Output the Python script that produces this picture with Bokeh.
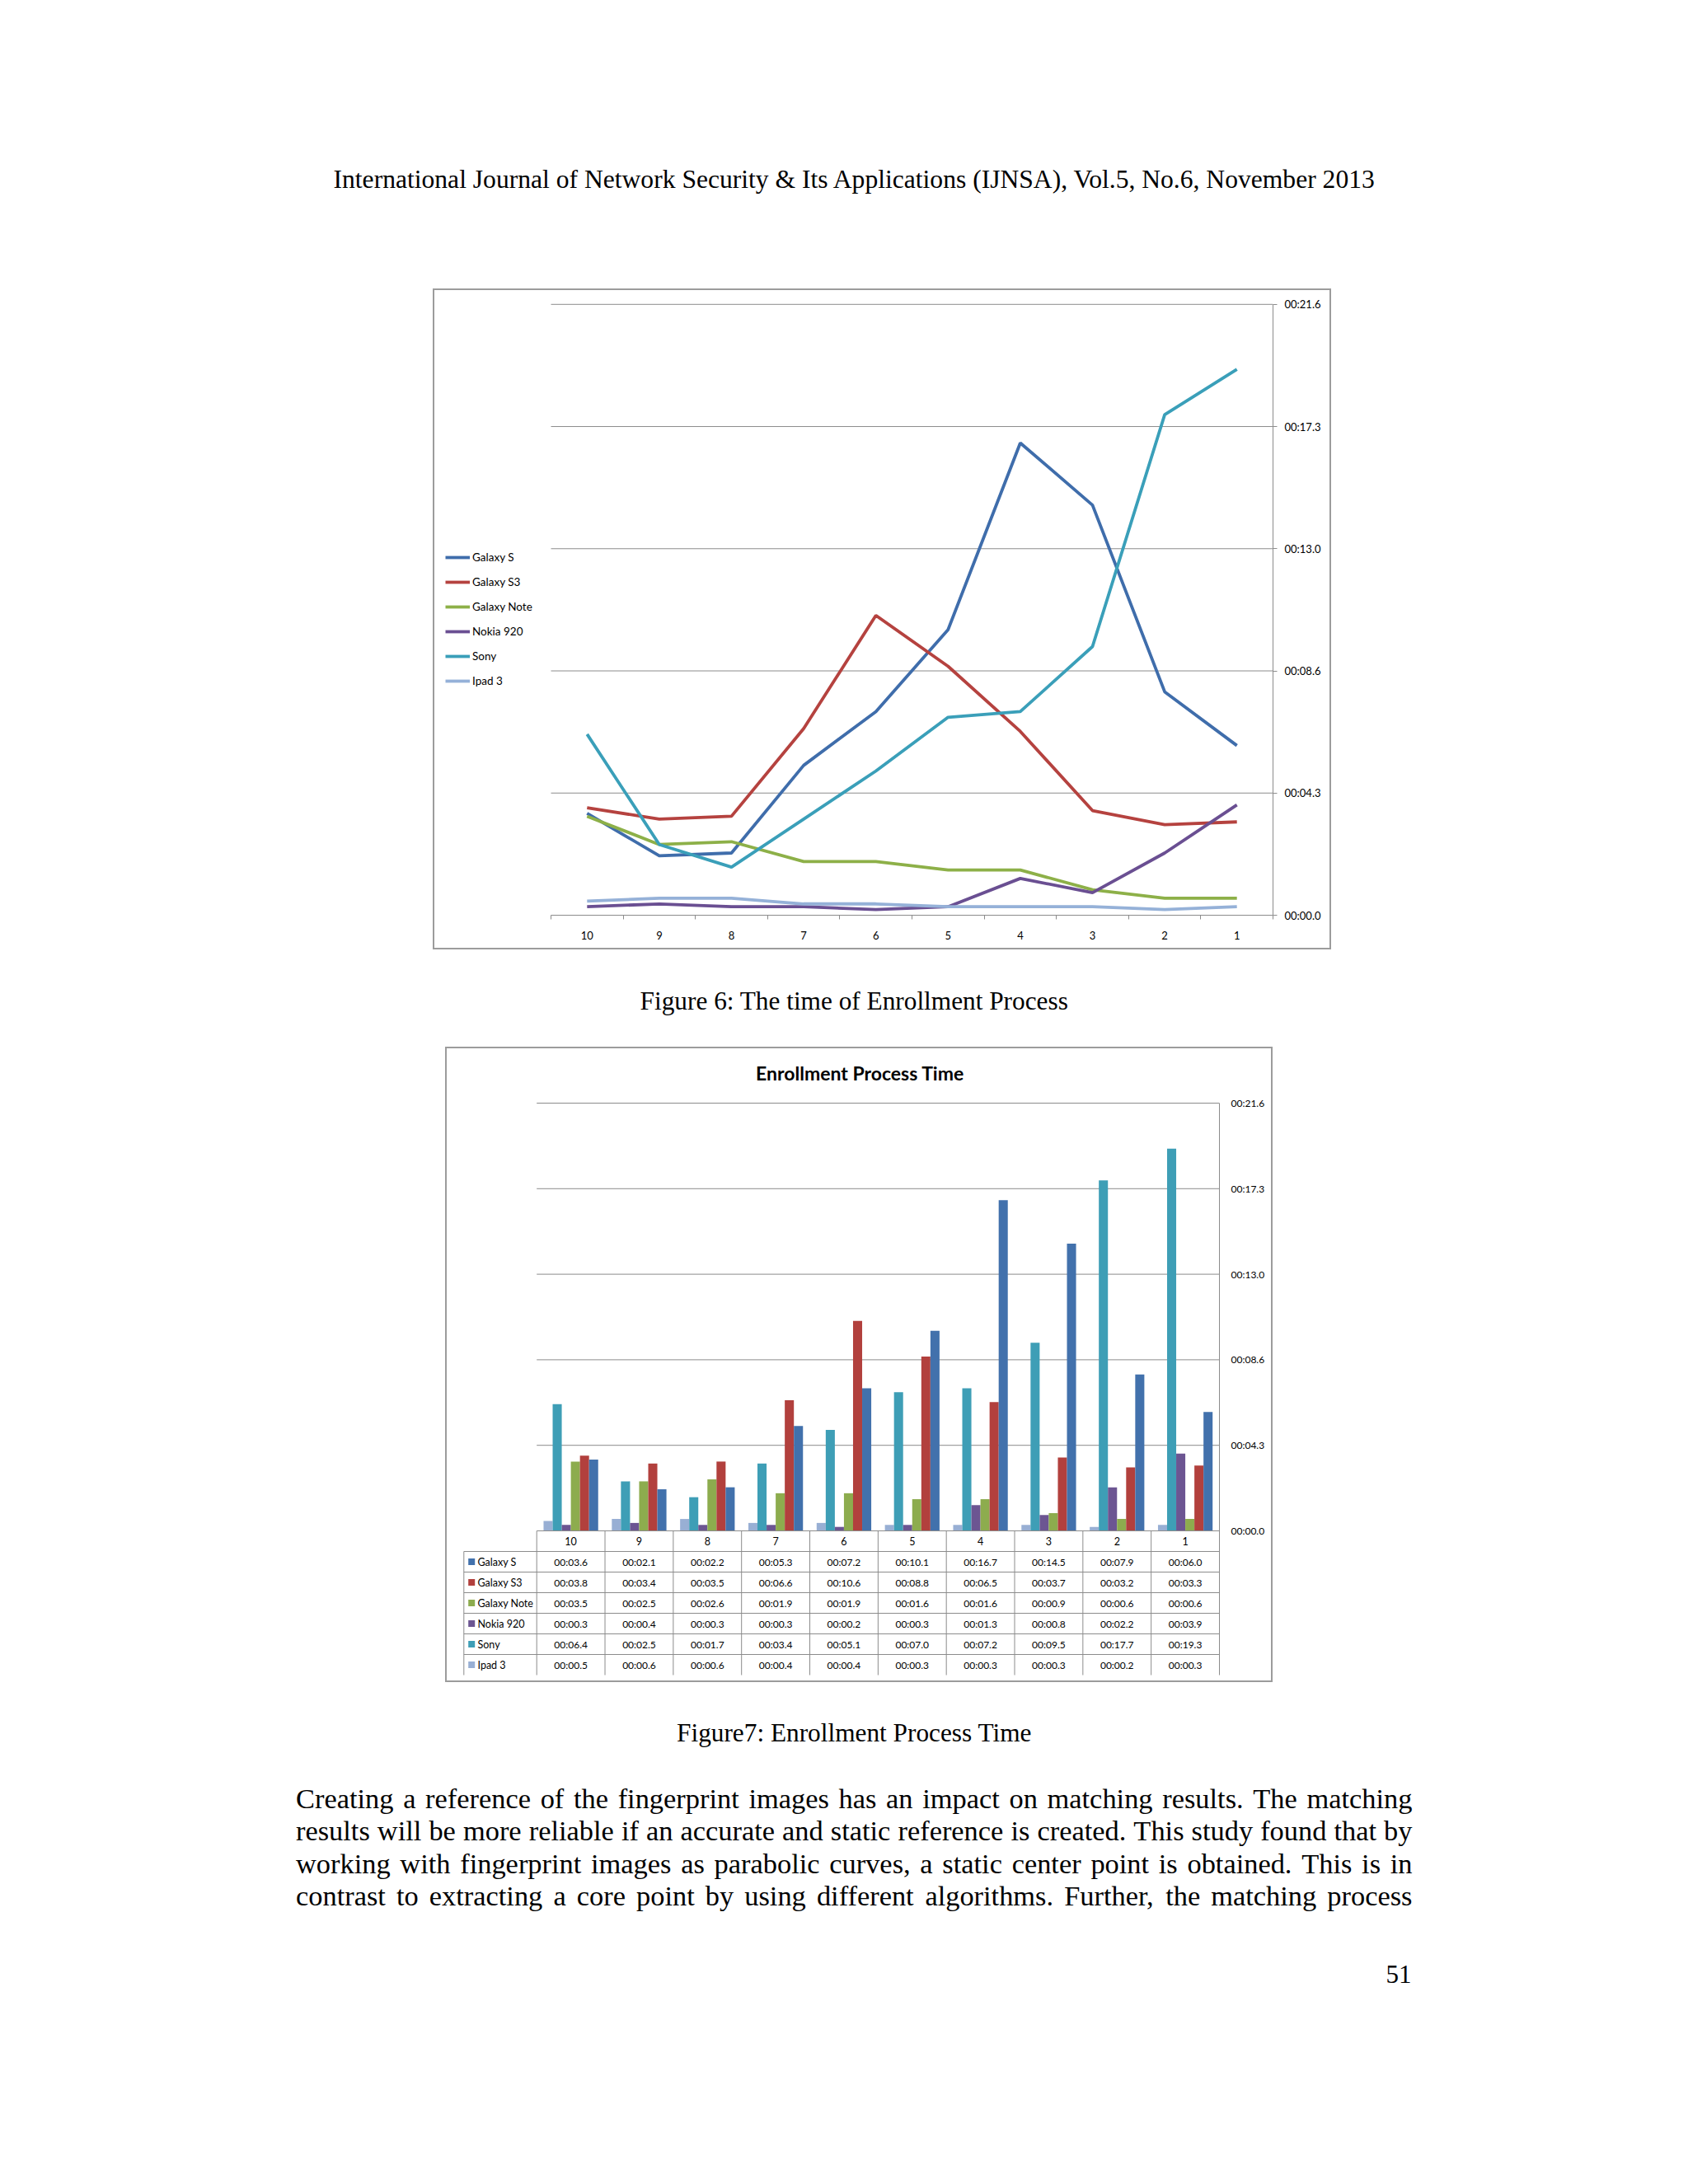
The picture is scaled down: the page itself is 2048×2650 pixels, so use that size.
from bokeh.plotting import figure
from bokeh.models import Range1d, LinearAxis, FixedTicker, Legend, LegendItem, Spacer
from bokeh.layouts import column, row
from bokeh.embed import file_html
from bokeh.resources import INLINE
from bokeh.core.properties import value

# ------------------------------------------------------------------ data
categories = ["10", "9", "8", "7", "6", "5", "4", "3", "2", "1"]
series_names = ["Galaxy S", "Galaxy S3", "Galaxy Note", "Nokia 920", "Sony", "Ipad 3"]
galaxy_s = [3.6, 2.1, 2.2, 5.3, 7.2, 10.1, 16.7, 14.5, 7.9, 6.0]
galaxy_s3 = [3.8, 3.4, 3.5, 6.6, 10.6, 8.8, 6.5, 3.7, 3.2, 3.3]
galaxy_note = [3.5, 2.5, 2.6, 1.9, 1.9, 1.6, 1.6, 0.9, 0.6, 0.6]
nokia_920 = [0.3, 0.4, 0.3, 0.3, 0.2, 0.3, 1.3, 0.8, 2.2, 3.9]
sony = [6.4, 2.5, 1.7, 3.4, 5.1, 7.0, 7.2, 9.5, 17.7, 19.3]
ipad_3 = [0.5, 0.6, 0.6, 0.4, 0.4, 0.3, 0.3, 0.3, 0.2, 0.3]
y_ticks = [0.0, 4.32, 8.64, 12.96, 17.28, 21.6]
y_tick_labels = ["00:00.0", "00:04.3", "00:08.6", "00:13.0", "00:17.3", "00:21.6"]

header_text = "International Journal of Network Security & Its Applications (IJNSA), Vol.5, No.6, November 2013"
caption6 = "Figure 6: The time of Enrollment Process"
caption7 = "Figure7: Enrollment Process Time"
chart7_title = "Enrollment Process Time"
body_lines = [
    "Creating a reference of the fingerprint images has an impact on matching results. The matching",
    "results will be more reliable if an accurate and static reference is created. This study found that by",
    "working with fingerprint images as parabolic curves, a static center point is obtained. This is in",
    "contrast to extracting a core point by using different algorithms. Further, the matching process",
]
page_number = "51"

series_values = [galaxy_s, galaxy_s3, galaxy_note, nokia_920, sony, ipad_3]
line_colors = ["#3F6DAB", "#B5423F", "#8DB048", "#6A4F92", "#3A9FB9", "#95B1D8"]
bar_colors = ["#4271AC", "#B2403D", "#8DAC4E", "#6C5592", "#3E9EB6", "#98AFD4"]

SERIF = "Liberation Serif"
SANS = "Lato"
GRID = "#8c8c8c"
BORDER = 2
BOX_STYLE = {"border": f"{BORDER}px solid #9c9c9c"}
PAGE_W = 2040

# Times metrics (per 1000 em) for justified body text
TNR = {' ': 250, '.': 250, ',': 250, ':': 278, '&': 778, '(': 333, ')': 333,
       'A': 722, 'B': 667, 'C': 667, 'D': 722, 'E': 611, 'F': 556, 'G': 722, 'H': 722,
       'I': 333, 'J': 389, 'K': 722, 'L': 611, 'M': 889, 'N': 722, 'O': 722, 'P': 556,
       'Q': 722, 'R': 667, 'S': 556, 'T': 611, 'U': 722, 'V': 722, 'W': 944, 'X': 722,
       'Y': 722, 'Z': 611, 'a': 444, 'b': 500, 'c': 444, 'd': 500, 'e': 444, 'f': 333,
       'g': 500, 'h': 500, 'i': 278, 'j': 278, 'k': 500, 'l': 278, 'm': 778, 'n': 500,
       'o': 500, 'p': 500, 'q': 500, 'r': 333, 's': 389, 't': 278, 'u': 500, 'v': 500,
       'w': 722, 'x': 500, 'y': 500, 'z': 444}


def word_width(w, size):
    return sum(TNR.get(ch, 500) for ch in w) / 1000.0 * size


def text_fig(y_top, y_bot):
    f = figure(width=PAGE_W, height=int(round(y_bot - y_top)), output_backend="svg",
               toolbar_location=None, x_range=Range1d(0, PAGE_W),
               y_range=Range1d(y_bot, y_top), x_axis_type=None, y_axis_type=None,
               min_border=0)
    f.outline_line_color = None
    return f


def serif_text(f, x, y, txt, size, align="center"):
    f.text(x=[x], y=[y], text=[txt], text_align=align, text_baseline="alphabetic",
           text_font=value(SERIF), text_font_size=size, text_color="#000000")


# ------------------------------------------------------------------ figure 6 (lines)
W6, H6 = 1090, 802
X6, Y6 = 525, 350                     # page position of the chart box (outer edge)
X6c, Y6c = X6 + BORDER, Y6 + BORDER   # canvas origin
L6, R6, T6, B6 = 668, 1544, 368.8, 1110  # plot area in page px
mbr6 = int(round(X6c + W6 - R6))
mbb6 = int(round(Y6c + H6 - B6))
ux6 = (R6 - L6) / 10.0
uy6 = (B6 - T6) / 21.6
p6 = figure(width=W6, height=H6, output_backend="svg", toolbar_location=None,
            x_range=Range1d(-(L6 - X6c) / ux6, 10), y_range=Range1d(0, 21.6 + (T6 - Y6c) / uy6),
            x_axis_type=None, y_axis_type=None, min_border_left=0, min_border_top=0,
            min_border_right=mbr6, min_border_bottom=mbb6, styles=BOX_STYLE)
p6.outline_line_color = None

p6.segment(x0=0, x1=10, y0=y_ticks[1:], y1=y_ticks[1:], line_color=GRID, line_width=1)

xs = [i + 0.5 for i in range(len(categories))]
items = []
for name, vals, col in zip(series_names, series_values, line_colors):
    r = p6.line(x=xs, y=vals, line_color=col, line_width=3.8)
    items.append(LegendItem(label=name, renderers=[r]))

leg_left = 540 - X6c
leg_bottom = (Y6c + H6 - mbb6) - (665.5 + 170)
legend6 = Legend(items=items, location=(leg_left, leg_bottom), orientation="vertical",
                 padding=0, margin=0, spacing=10, glyph_width=30, glyph_height=20,
                 label_height=20, label_standoff=3, border_line_color=None,
                 background_fill_alpha=0, label_text_font=SANS,
                 label_text_font_size="13.5px", label_text_color="#000000")
p6.add_layout(legend6)

xax6 = LinearAxis(bounds=(0, 10),
                  ticker=FixedTicker(ticks=xs, minor_ticks=list(range(11))),
                  major_label_overrides={x: c for x, c in zip(xs, categories)},
                  major_tick_in=0, major_tick_out=0, minor_tick_in=0, minor_tick_out=5,
                  axis_line_color=GRID, minor_tick_line_color=GRID,
                  major_label_standoff=14, major_label_text_font=SANS,
                  major_label_text_font_size="13px", major_label_text_color="#000000")
p6.add_layout(xax6, "below")

yax6 = LinearAxis(bounds=(0, 21.6), ticker=FixedTicker(ticks=y_ticks, minor_ticks=[]),
                  major_label_overrides=dict(zip(y_ticks, y_tick_labels)),
                  major_tick_in=0, major_tick_out=5, minor_tick_in=0, minor_tick_out=0,
                  axis_line_color=GRID, major_tick_line_color=GRID,
                  major_label_standoff=9, major_label_text_font=SANS,
                  major_label_text_font_size="13px", major_label_text_color="#000000")
p6.add_layout(yax6, "right")

# ------------------------------------------------------------------ figure 7 (bars + table)
W7, H7 = 1004, 771
X7, Y7 = 540, 1270
X7c, Y7c = X7 + BORDER, Y7 + BORDER
L7, T7, B7 = 650.7, 1338, 1857
TABLE_LEFT, TABLE_BOTTOM, ROW_H = 562.3, 2032, 25.0
mbr7 = int(round(X7c + W7 - 1478.6))
R7 = X7c + W7 - mbr7
ux7 = (R7 - L7) / 10.0
uy7 = (B7 - T7) / 21.6
p7 = figure(width=W7, height=H7, output_backend="svg", toolbar_location=None,
            x_range=Range1d(-(L7 - X7c) / ux7, 10),
            y_range=Range1d(-(Y7c + H7 - B7) / uy7, 21.6 + (T7 - Y7c) / uy7),
            x_axis_type=None, y_axis_type=None, min_border_left=0, min_border_top=0,
            min_border_right=mbr7, min_border_bottom=0, styles=BOX_STYLE)
p7.extra_y_ranges = {"table": Range1d((Y7c + H7 - B7) / ROW_H, -(B7 - Y7c) / ROW_H)}
p7.outline_line_color = None

p7.segment(x0=0, x1=10, y0=y_ticks[1:], y1=y_ticks[1:], line_color=GRID, line_width=1)

n_series = len(series_names)
bw = 0.8 / n_series
draw_order = list(range(n_series))[::-1]   # Ipad 3 at left ... Galaxy S at right
for k, si in enumerate(draw_order):
    bx = [i + 0.5 + (k - (n_series - 1) / 2.0) * bw for i in range(len(categories))]
    p7.vbar(x=bx, top=series_values[si], bottom=0, width=bw,
            fill_color=bar_colors[si], line_color=None)

xl = (TABLE_LEFT - L7) / ux7
n_rows = n_series + 1
p7.segment(x0=[0] + [xl] * n_series, x1=[10] * n_rows,
           y0=list(range(n_rows)), y1=list(range(n_rows)),
           line_color=GRID, line_width=1, y_range_name="table")
p7.segment(x0=list(range(10)) + [xl], x1=list(range(10)) + [xl],
           y0=[0] * 10 + [1], y1=[n_series + 1] * 11,
           line_color=GRID, line_width=1, y_range_name="table")
p7.text(x=xs, y=[0.5] * len(categories), text=categories, y_range_name="table",
        text_align="center", text_baseline="middle", text_font=value(SANS),
        text_font_size="12.5px", text_color="#000000")
row_y = [r + 1.5 for r in range(n_series)]
p7.scatter(x=[xl + 9.4 / ux7] * n_series, y=row_y, marker="square", size=8,
           fill_color=bar_colors, line_color=None, y_range_name="table")
p7.text(x=[xl + 16.7 / ux7] * n_series, y=row_y, text=series_names, y_range_name="table",
        text_align="left", text_baseline="middle", text_font=value(SANS),
        text_font_size="12.5px", text_color="#000000")
for r, vals in enumerate(series_values):
    p7.text(x=xs, y=[r + 1.5] * len(vals), text=[f"00:{v:04.1f}" for v in vals],
            y_range_name="table", text_align="center", text_baseline="middle",
            text_font=value(SANS), text_font_size="12px", text_color="#000000")

p7.text(x=[(1043 - L7) / ux7], y=[21.6 + (T7 - 1301) / uy7], text=[chart7_title],
        text_align="center", text_baseline="middle", text_font=value(SANS),
        text_font_style="bold", text_font_size="23px", text_color="#000000")

yax7 = LinearAxis(bounds=(-(TABLE_BOTTOM - B7) / uy7, 21.6),
                  ticker=FixedTicker(ticks=y_ticks, minor_ticks=[]),
                  major_label_overrides=dict(zip(y_ticks, y_tick_labels)),
                  major_tick_in=0, major_tick_out=0, minor_tick_in=0, minor_tick_out=0,
                  axis_line_color=GRID, major_label_standoff=14, major_label_text_font=SANS,
                  major_label_text_font_size="12px", major_label_text_color="#000000")
p7.add_layout(yax7, "right")

# ------------------------------------------------------------------ page text
top_fig = text_fig(0, Y6)
serif_text(top_fig, 1036.8, 216.5, header_text, "31.6px")

mid_fig = text_fig(Y6 + H6, Y7)
serif_text(mid_fig, 1036, 1214.2, caption6, "31.3px")

bot_top = Y7 + H7
bot_fig = text_fig(bot_top, 2640)
serif_text(bot_fig, 1036, 2101.5, caption7, "31.3px")

BODY_SIZE = 34.4
BODY_LEFT, BODY_RIGHT = 358.5, 1713
baselines = [2181, 2220.6, 2260.2, 2299.8]
lx, ly, lt, rx, ry, rt = [], [], [], [], [], []
for line, yb in zip(body_lines, baselines):
    words = line.split()
    widths = [word_width(w, BODY_SIZE) for w in words]
    gap = (BODY_RIGHT - BODY_LEFT - sum(widths)) / (len(words) - 1)
    x = BODY_LEFT
    for w, wd in zip(words[:-1], widths[:-1]):
        lx.append(x); ly.append(yb); lt.append(w)
        x += wd + gap
    rx.append(BODY_RIGHT); ry.append(yb); rt.append(words[-1])
bot_fig.text(x=lx, y=ly, text=lt, text_align="left", text_baseline="alphabetic",
             text_font=value(SERIF), text_font_size=f"{BODY_SIZE}px", text_color="#000000")
bot_fig.text(x=rx, y=ry, text=rt, text_align="right", text_baseline="alphabetic",
             text_font=value(SERIF), text_font_size=f"{BODY_SIZE}px", text_color="#000000")
serif_text(bot_fig, 1712, 2395, page_number, "31px", align="right")

layout = column(
    top_fig,
    row(Spacer(width=X6, height=H6), p6),
    mid_fig,
    row(Spacer(width=X7, height=H7), p7),
    bot_fig,
)

open("out.html", "w").write(file_html(layout, INLINE, title="Enrollment Process Time"))
